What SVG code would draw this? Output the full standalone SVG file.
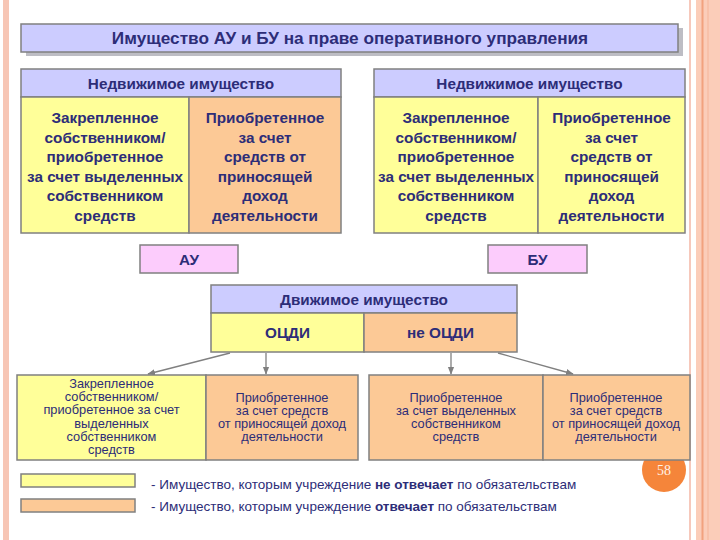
<svg xmlns="http://www.w3.org/2000/svg" width="720" height="540" viewBox="0 0 720 540">
<defs>
<style>
.bx{stroke:#808080;stroke-width:1.5}
.hd{fill:#ccccff}
.yl{fill:#ffff99}
.or{fill:#fcc996}
.pk{fill:#fcccfc}
.b{font-family:"Liberation Sans",Arial,sans-serif;font-weight:bold;font-size:15.3px;fill:#2d2d78;text-anchor:middle}
.t{font-size:17.2px}
.n{font-family:"Liberation Sans",Arial,sans-serif;font-size:12.8px;fill:#2d2d78;text-anchor:middle}
.lg{font-family:"Liberation Sans",Arial,sans-serif;font-size:13.5px;fill:#2d2d78}
.cn{stroke:#808080;stroke-width:1.3;fill:none;marker-end:url(#ah)}
</style>
<marker id="ah" viewBox="0 0 10 10" refX="9" refY="5" markerWidth="6" markerHeight="6" orient="auto">
<path d="M0,1 L10,5 L0,9 z" fill="#808080"/>
</marker>
</defs>
<rect width="720" height="540" fill="#ffffff"/>
<g id="decor">
<rect x="3" y="0" width="6" height="540" fill="#f7c6b5"/>
<rect x="689" y="0" width="2" height="540" fill="#f6c8bb"/>
<rect x="696" y="0" width="24" height="540" fill="#fbcdb9"/>
<rect x="701.5" y="0" width="2" height="540" fill="#f2a27e"/>
<rect x="707.5" y="0" width="1" height="540" fill="#f5b59a"/>
</g>
<g id="page-number">
<circle cx="664" cy="470" r="22" fill="#f5853a"/>
<text x="664" y="475" font-family="Liberation Serif,serif" font-size="14" fill="#fff2e6" text-anchor="middle">58</text>
</g>
<g id="title">
<rect x="26" y="28" width="657" height="28" fill="#bdbdc4"/>
<rect class="bx hd" x="21" y="24" width="657" height="28"/>
<text class="b t" x="350" y="44">Имущество АУ и БУ на праве оперативного управления</text>
</g>
<g id="left-real-estate">
<rect class="bx hd" x="21" y="69" width="320" height="28"/>
<rect class="bx yl" x="21" y="97" width="168" height="136"/>
<rect class="bx or" x="189" y="97" width="152" height="136"/>
<text class="b" x="181" y="88.5">Недвижимое имущество</text>
<text class="b" x="105" y="123">Закрепленное</text>
<text class="b" x="105" y="142.5">собственником/</text>
<text class="b" x="105" y="162">приобретенное</text>
<text class="b" x="105" y="181.5">за счет выделенных</text>
<text class="b" x="105" y="201">собственником</text>
<text class="b" x="105" y="220.5">средств</text>
<text class="b" x="265" y="123">Приобретенное</text>
<text class="b" x="265" y="142.5">за счет</text>
<text class="b" x="265" y="162">средств от</text>
<text class="b" x="265" y="181.5">приносящей</text>
<text class="b" x="265" y="201">доход</text>
<text class="b" x="265" y="220.5">деятельности</text>
</g>
<g id="right-real-estate">
<rect class="bx hd" x="374" y="69" width="311" height="28"/>
<rect class="bx yl" x="374" y="97" width="164" height="136"/>
<rect class="bx yl" x="538" y="97" width="147" height="136"/>
<text class="b" x="529.5" y="88.5">Недвижимое имущество</text>
<text class="b" x="456" y="123">Закрепленное</text>
<text class="b" x="456" y="142.5">собственником/</text>
<text class="b" x="456" y="162">приобретенное</text>
<text class="b" x="456" y="181.5">за счет выделенных</text>
<text class="b" x="456" y="201">собственником</text>
<text class="b" x="456" y="220.5">средств</text>
<text class="b" x="611.5" y="123">Приобретенное</text>
<text class="b" x="611.5" y="142.5">за счет</text>
<text class="b" x="611.5" y="162">средств от</text>
<text class="b" x="611.5" y="181.5">приносящей</text>
<text class="b" x="611.5" y="201">доход</text>
<text class="b" x="611.5" y="220.5">деятельности</text>
</g>
<g id="au">
<rect class="bx pk" x="140" y="245" width="98" height="28"/>
<text class="b" x="189" y="264.5">АУ</text>
</g>
<g id="bu">
<rect class="bx pk" x="488" y="245" width="99" height="28"/>
<text class="b" x="537.5" y="264.5">БУ</text>
</g>
<g id="movable">
<rect class="bx hd" x="211" y="285" width="306" height="28"/>
<rect class="bx yl" x="211" y="313" width="153" height="39"/>
<rect class="bx or" x="364" y="313" width="153" height="39"/>
<text class="b" x="364" y="304.5">Движимое имущество</text>
<text class="b" x="287.5" y="338">ОЦДИ</text>
<text class="b" x="440.5" y="338">не ОЦДИ</text>
</g>
<g id="connectors">
<line class="cn" x1="230" y1="353" x2="148" y2="374"/>
<line class="cn" x1="266" y1="353" x2="266" y2="374"/>
<line class="cn" x1="451" y1="353" x2="451" y2="374"/>
<line class="cn" x1="498" y1="353" x2="573" y2="374"/>
</g>
<g id="bottom-left">
<rect class="bx yl" x="17" y="375" width="189" height="85"/>
<rect class="bx or" x="206" y="375" width="152" height="85"/>
<text class="n" x="111.5" y="388">Закрепленное</text>
<text class="n" x="111.5" y="401.2">собственником/</text>
<text class="n" x="111.5" y="414.4">приобретенное за счет</text>
<text class="n" x="111.5" y="427.6">выделенных</text>
<text class="n" x="111.5" y="440.8">собственником</text>
<text class="n" x="111.5" y="454">средств</text>
<text class="n" x="282" y="401.5">Приобретенное</text>
<text class="n" x="282" y="414.7">за счет средств</text>
<text class="n" x="282" y="427.9">от приносящей доход</text>
<text class="n" x="282" y="441.1">деятельности</text>
</g>
<g id="bottom-right">
<rect class="bx or" x="369" y="375" width="174" height="85"/>
<rect class="bx or" x="543" y="375" width="147" height="85"/>
<text class="n" x="456" y="401.5">Приобретенное</text>
<text class="n" x="456" y="414.7">за счет выделенных</text>
<text class="n" x="456" y="427.9">собственником</text>
<text class="n" x="456" y="441.1">средств</text>
<text class="n" x="616" y="401.5">Приобретенное</text>
<text class="n" x="616" y="414.7">за счет средств</text>
<text class="n" x="616" y="427.9">от приносящей доход</text>
<text class="n" x="616" y="441.1">деятельности</text>
</g>
<g id="legend">
<rect class="bx yl" x="21" y="474" width="114" height="13"/>
<rect class="bx or" x="21" y="499" width="114" height="13"/>
<text class="lg" x="151" y="489">- Имущество, которым учреждение <tspan font-weight="bold">не отвечает</tspan> по обязательствам</text>
<text class="lg" x="151" y="511">- Имущество, которым учреждение <tspan font-weight="bold">отвечает</tspan> по обязательствам</text>
</g>
</svg>
